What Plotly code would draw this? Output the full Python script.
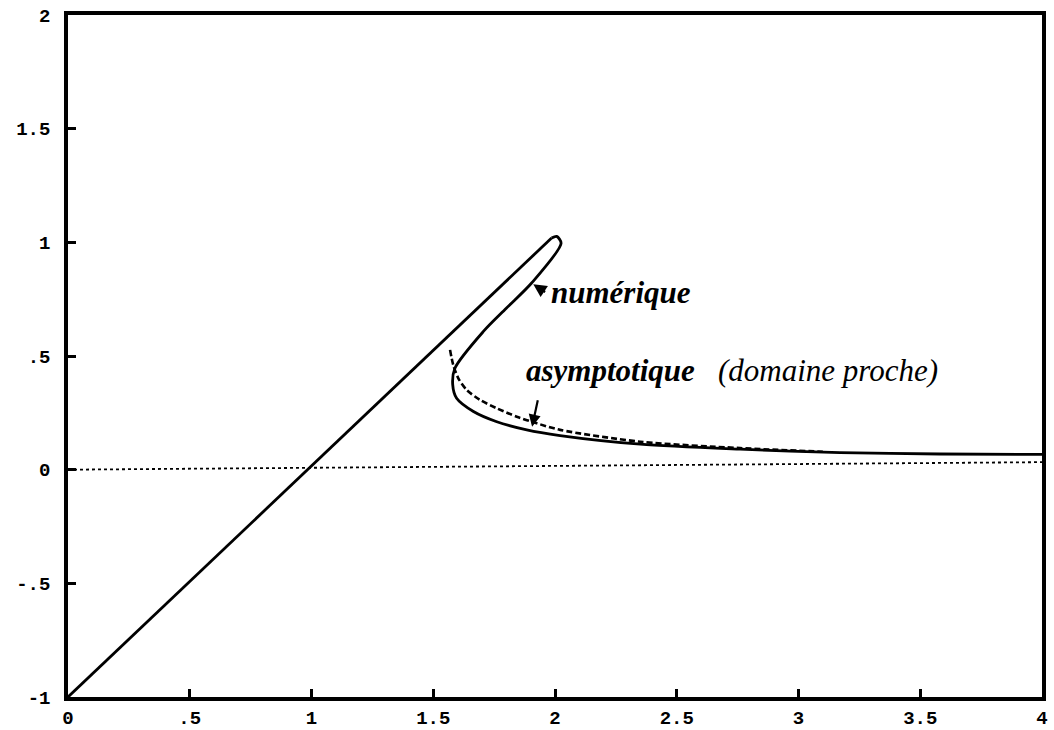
import plotly.graph_objects as go

# Diagonal straight branch
diag_x = [0.0, 1.986]
diag_y = [-1.0, 1.019]

# Numerical solution (solid), starting at the tip cap
num_x = [1.986, 2.007, 2.025, 1.904, 1.80, 1.706, 1.589, 1.580, 1.596, 1.665, 1.761,
         1.884, 2.021, 2.35, 2.76, 3.17, 3.58, 4.0]
num_y = [1.019, 1.026, 0.996, 0.821, 0.71, 0.608, 0.446, 0.373, 0.314, 0.256, 0.211,
         0.175, 0.150, 0.112, 0.090, 0.075, 0.069, 0.067]

# Asymptotic solution (near domain), dashed
asy_x = [1.569, 1.582, 1.603, 1.637, 1.692, 1.761, 1.843, 1.925, 2.021, 2.35, 2.76, 3.1]
asy_y = [0.527, 0.461, 0.402, 0.351, 0.307, 0.270, 0.233, 0.204, 0.175, 0.123, 0.095, 0.079]

# Zero reference line (dotted)
zero_x = [0.0, 4.0]
zero_y = [0.0, 0.033]

x_ticks = [0, 0.5, 1, 1.5, 2, 2.5, 3, 3.5, 4]
x_labels = ["0", ".5", "1", "1.5", "2", "2.5", "3", "3.5", "4"]
y_ticks = [-1, -0.5, 0, 0.5, 1, 1.5, 2]
y_labels = ["-1", "-.5", "0", ".5", "1", "1.5", "2"]

fig = go.Figure()
fig.add_trace(go.Scatter(x=zero_x, y=zero_y, mode="lines",
                         line=dict(color="black", width=1.8, dash="dot")))
fig.add_trace(go.Scatter(x=diag_x, y=diag_y, mode="lines",
                         line=dict(color="black", width=2.8)))
fig.add_trace(go.Scatter(x=num_x, y=num_y, mode="lines", line_shape="spline",
                         line=dict(color="black", width=2.8, smoothing=0.8)))
fig.add_trace(go.Scatter(x=asy_x, y=asy_y, mode="lines", line_shape="spline",
                         line=dict(color="black", width=2.6, dash="6px,3px",
                                   smoothing=0.8)))

serif = "Liberation Serif"
fig.add_annotation(x=1.904, y=0.821, ax=15, ay=10, text="", showarrow=True,
                   arrowhead=2, arrowsize=1.2, arrowwidth=2.2, arrowcolor="black",
                   standoff=2)
fig.add_annotation(x=1.975, y=0.778, text="<b><i>numérique</i></b>", showarrow=False,
                   xanchor="left", yanchor="middle",
                   font=dict(family=serif, size=31, color="black"))
fig.add_annotation(x=1.872, y=0.436,
                   text="<b><i>asymptotique</i></b>&nbsp;&nbsp;&nbsp;<i>(domaine proche)</i>",
                   showarrow=False, xanchor="left", yanchor="middle",
                   font=dict(family=serif, size=31, color="black"))
fig.add_annotation(x=1.906, y=0.189, ax=6, ay=-28, text="", showarrow=True,
                   arrowhead=2, arrowsize=1.1, arrowwidth=2.2, arrowcolor="black")

axis_common = dict(showgrid=False, zeroline=False, showline=True, linecolor="black",
                   linewidth=3.5, mirror=True, ticks="inside", ticklen=8, tickwidth=2.5,
                   tickcolor="black", automargin=False,
                   tickfont=dict(family="Liberation Mono", size=19, color="black",
                                 weight="bold"))
fig.update_xaxes(range=[0, 4], tickvals=x_ticks, ticktext=x_labels, **axis_common)
fig.update_yaxes(range=[-1, 2], tickvals=y_ticks, ticktext=y_labels,
                 ticklabelstandoff=10, **axis_common)

fig.update_layout(width=1054, height=730, showlegend=False,
                  margin=dict(l=68, r=12, t=15, b=33),
                  plot_bgcolor="white", paper_bgcolor="white")

fig.write_html("out.html")
